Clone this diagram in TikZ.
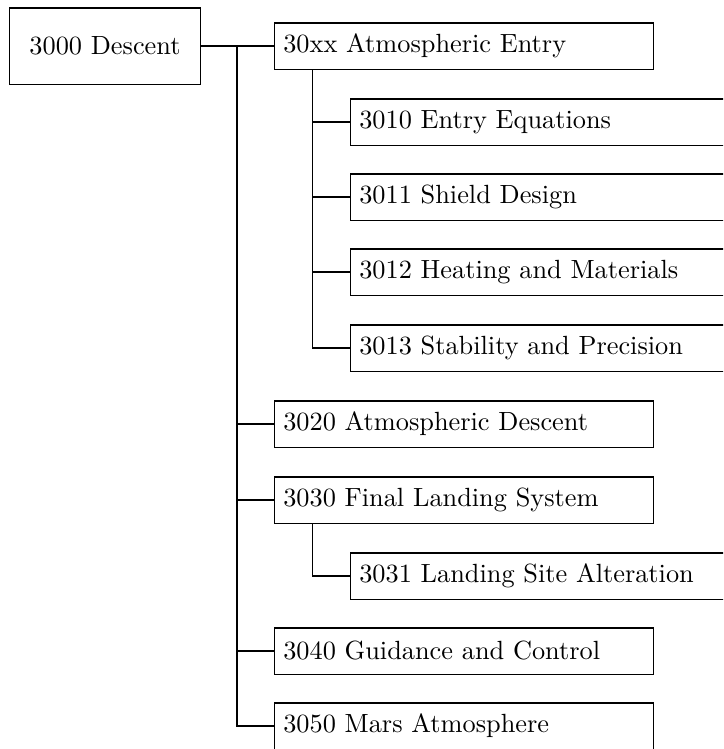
\documentclass[tikz,border=0pt]{standalone}
\begin{document}
\begin{tikzpicture}[x=0.38pt,y=-0.38pt,
  box/.style={draw, line width=0.4pt, anchor=west, minimum height=17.5pt,
    text width=137.3pt, align=left, inner xsep=3.33pt},
  rootbox/.style={draw, line width=0.4pt, minimum width=72.4pt, minimum height=28.9pt},
  conn/.style={line width=0.4pt}]
\useasboundingbox (0,0) rectangle (723,749);
\clip (0,0) rectangle (723,749);
\node[rootbox] (root) at (105,46) {3000 Descent};
\node[box] (n30xx) at (274,46) {30xx Atmospheric Entry};
\node[box] (n3010) at (350,122) {3010 Entry Equations};
\node[box] (n3011) at (350,197) {3011 Shield Design};
\node[box] (n3012) at (350,272) {3012 Heating and Materials};
\node[box] (n3013) at (350,348) {3013 Stability and Precision};
\node[box] (n3020) at (274,424) {3020 Atmospheric Descent};
\node[box] (n3030) at (274,500) {3030 Final Landing System};
\node[box] (n3031) at (350,576) {3031 Landing Site Alteration};
\node[box] (n3040) at (274,651) {3040 Guidance and Control};
\node[box] (n3050) at (274,726) {3050 Mars Atmosphere};
\draw[conn] (root.east) -- (n30xx.west);
\coordinate (trunk) at (237,46);
\foreach \n in {3020,3030,3040,3050} \draw[conn] (trunk) |- (n\n.west);
\coordinate (sub1) at ([xshift=14.8pt]n30xx.south west);
\foreach \n in {3010,3011,3012,3013} \draw[conn] (sub1) |- (n\n.west);
\coordinate (sub2) at ([xshift=14.8pt]n3030.south west);
\draw[conn] (sub2) |- (n3031.west);
\end{tikzpicture}
\end{document}
